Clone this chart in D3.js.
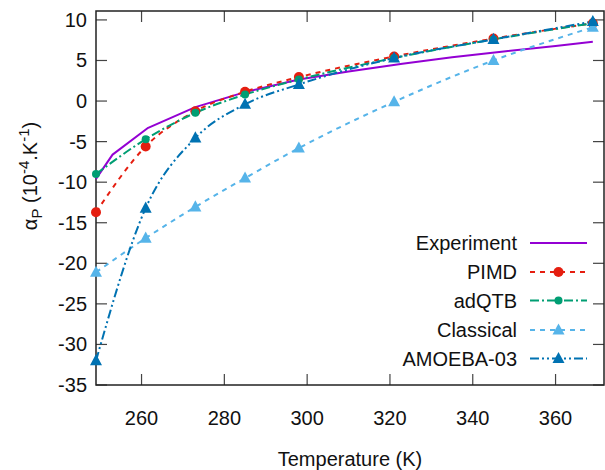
<!DOCTYPE html>
<html><head><meta charset="utf-8">
<script src="https://cdn.jsdelivr.net/npm/d3@7"></script>
<style>body{margin:0;background:#fff;} text{font-family:"Liberation Sans",Arial,Helvetica,sans-serif;}</style>
</head><body><svg id="c" width="605" height="470"></svg>
<script>
const temps = [249, 261, 273, 285, 298, 321, 345, 369];
const pimd = [-13.7, -5.6, -1.25, 1.15, 2.95, 5.5, 7.7, 9.6];
const adqtb = [-9.0, -4.7, -1.45, 0.8, 2.65, 5.3, 7.6, 9.6];
const classical = [-21.1, -16.9, -13.05, -9.5, -5.8, -0.1, 5.0, 9.1];
const amoeba = [-32.0, -13.2, -4.55, -0.4, 2.05, 5.3, 7.6, 9.8];
const expT = [249, 253, 261.6, 273, 285, 298, 310, 323, 335, 348, 360, 369];
const expV = [-9.6, -6.6, -3.3, -0.75, 1.1, 2.65, 3.65, 4.6, 5.4, 6.15, 6.8, 7.3];
const xTicks = [260, 280, 300, 320, 340, 360];
const yTicks = [-35, -30, -25, -20, -15, -10, -5, 0, 5, 10];
const labels = ["Experiment", "PIMD", "adQTB", "Classical", "AMOEBA-03"];

const svg = d3.select("#c");
const L = 96, R = 604, T = 11, B = 385;
const FS = 20;
const x = d3.scaleLinear().domain([249, 371.7]).range([L, R]);
const y = d3.scaleLinear().domain([-35, 11.1]).range([B, T]);

const tk = 11;
const g = svg.append("g");
xTicks.forEach(v => {
  g.append("line").attr("x1", x(v)).attr("x2", x(v)).attr("y1", B).attr("y2", B - tk).attr("stroke", "#444").attr("stroke-width", 1.2);
  g.append("line").attr("x1", x(v)).attr("x2", x(v)).attr("y1", T).attr("y2", T + tk).attr("stroke", "#444").attr("stroke-width", 1.2);
  g.append("text").attr("x", x(v)).attr("y", 425).attr("text-anchor", "middle").attr("font-size", FS).attr("fill", "#111").text(v);
});
yTicks.forEach(v => {
  g.append("line").attr("x1", L).attr("x2", L + tk).attr("y1", y(v)).attr("y2", y(v)).attr("stroke", "#444").attr("stroke-width", 1.2);
  g.append("line").attr("x1", R).attr("x2", R - tk).attr("y1", y(v)).attr("y2", y(v)).attr("stroke", "#444").attr("stroke-width", 1.2);
  g.append("text").attr("x", 87).attr("y", y(v) + 7).attr("text-anchor", "end").attr("font-size", FS).attr("fill", "#111").text(v);
});
svg.append("rect").attr("x", L).attr("y", T).attr("width", R - L).attr("height", B - T).attr("fill", "none").attr("stroke", "#222").attr("stroke-width", 1.5);

const plot = svg.append("g");

const series = [
  {name: labels[0], xs: expT, ys: expV, color: "#9400d3", dash: null, marker: null, curve: d3.curveLinear},
  {name: labels[1], xs: temps, ys: pimd, color: "#e51e10", dash: "5,5", marker: "circle", r: 5, curve: d3.curveMonotoneX},
  {name: labels[2], xs: temps, ys: adqtb, color: "#009e73", dash: "9,3,2,3", marker: "circle", r: 4, curve: d3.curveMonotoneX},
  {name: labels[3], xs: temps, ys: classical, color: "#56b4e9", dash: "5,5", marker: "tri", r: 6, curve: d3.curveMonotoneX},
  {name: labels[4], xs: temps, ys: amoeba, color: "#0072b2", dash: "9,3,2,3,2,3", marker: "tri", r: 6, curve: d3.curveMonotoneX}
];

function drawMarker(sel, type, cx, cy, r, color) {
  if (type === "circle") sel.append("circle").attr("cx", cx).attr("cy", cy).attr("r", r).attr("fill", color);
  else if (type === "tri") sel.append("path").attr("d", `M${cx},${cy - r * 1.1}L${cx + r},${cy + r * 0.75}L${cx - r},${cy + r * 0.75}Z`).attr("fill", color);
}

series.forEach(s => {
  const pts = s.xs.map((t, i) => [t, s.ys[i]]);
  const line = d3.line().x(d => x(d[0])).y(d => y(d[1])).curve(s.curve);
  plot.append("path").attr("d", line(pts)).attr("fill", "none").attr("stroke", s.color).attr("stroke-width", 2)
    .attr("stroke-dasharray", s.dash).attr("stroke-linejoin", "round");
});
series.forEach(s => {
  if (!s.marker) return;
  s.xs.forEach((t, i) => drawMarker(plot, s.marker, x(t), y(s.ys[i]), s.r, s.color));
});

const legY = [243, 272, 300.5, 330, 358.5];
series.forEach((s, i) => {
  const ly = legY[i];
  svg.append("text").attr("x", 517).attr("y", ly + 7).attr("text-anchor", "end").attr("font-size", FS).attr("fill", "#111").text(s.name);
  svg.append("line").attr("x1", 530).attr("x2", 587).attr("y1", ly).attr("y2", ly).attr("stroke", s.color).attr("stroke-width", 2).attr("stroke-dasharray", s.dash);
  if (s.marker) drawMarker(svg, s.marker, 558.5, ly, s.r, s.color);
});

svg.append("text").attr("x", 350).attr("y", 466).attr("text-anchor", "middle").attr("font-size", FS).attr("fill", "#111").text("Temperature (K)");
const yl = svg.append("text").attr("transform", "translate(37,176) rotate(-90)").attr("text-anchor", "middle").attr("font-size", FS).attr("fill", "#111");
yl.append("tspan").text("α");
yl.append("tspan").attr("font-size", 15).attr("dy", 5).text("P");
yl.append("tspan").attr("dy", -5).text(" (10");
yl.append("tspan").attr("font-size", 15).attr("dy", -8).text("-4");
yl.append("tspan").attr("dy", 8).text(".K");
yl.append("tspan").attr("font-size", 15).attr("dy", -8).text("-1");
yl.append("tspan").attr("dy", 8).text(")");
</script></body></html>
